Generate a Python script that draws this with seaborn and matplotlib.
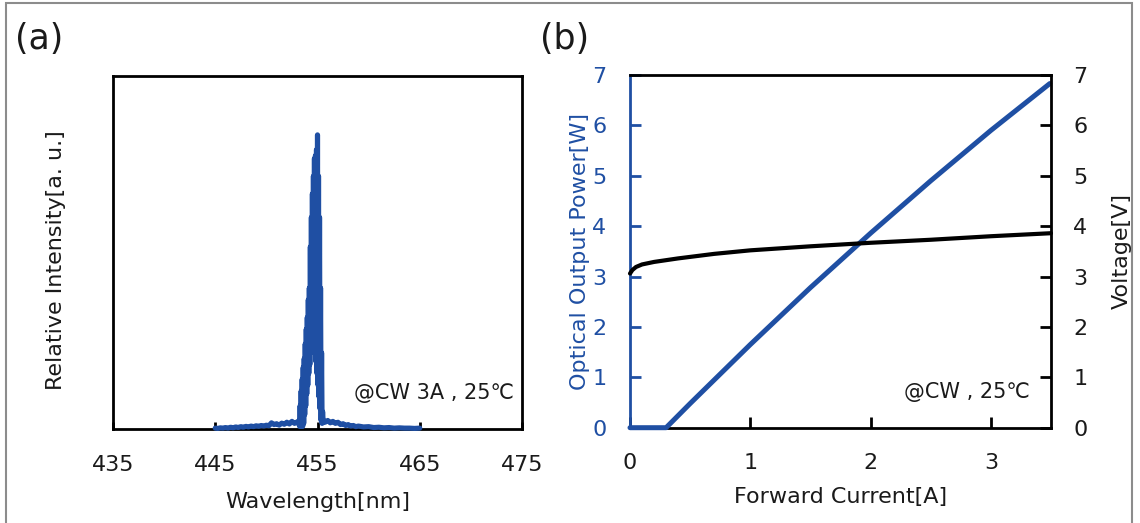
import matplotlib
matplotlib.use("Agg")
import matplotlib.pyplot as plt
from matplotlib.patches import Rectangle
import seaborn as sns
import pandas as pd

# ---- (a) emission spectrum (multimode, dense sampling around the peak) ----
wavelength_nm = [
    445.00, 445.25, 445.50, 445.75, 446.00, 446.25, 446.50, 446.75,
    447.00, 447.25, 447.50, 447.75, 448.00, 448.25, 448.50, 448.75,
    449.00, 449.25, 449.50, 449.75, 450.00, 450.25, 450.50, 450.75,
    451.00, 451.25, 451.50, 451.75, 452.00, 452.25, 452.50, 452.75,
    453.00, 453.10,
    453.20, 453.25, 453.30, 453.35, 453.40, 453.45, 453.50, 453.55,
    453.60, 453.65, 453.70, 453.75, 453.80, 453.85, 453.90, 453.95,
    454.00, 454.05, 454.10, 454.15, 454.20, 454.25, 454.30, 454.35,
    454.40, 454.45, 454.50, 454.55, 454.60, 454.65, 454.70, 454.75,
    454.80, 454.85, 454.90, 454.95, 455.00, 455.05, 455.10, 455.15,
    455.20, 455.25, 455.30, 455.35, 455.40, 455.45, 455.50, 455.55,
    455.65, 455.75, 456.00, 456.25, 456.50, 456.75, 457.00,
    457.25, 457.50, 457.75, 458.00, 458.25, 458.50, 458.75, 459.00,
    459.50, 460.00, 460.50, 461.00, 461.50, 462.00, 462.50, 463.00,
    463.50, 464.00, 464.50, 465.00,
]
intensity_au = [
    0.004, 0.003, 0.005, 0.004, 0.006, 0.004, 0.007, 0.005,
    0.008, 0.006, 0.009, 0.007, 0.010, 0.008, 0.011, 0.009,
    0.012, 0.010, 0.013, 0.011, 0.014, 0.012, 0.022, 0.016,
    0.019, 0.014, 0.021, 0.017, 0.024, 0.018, 0.027, 0.020,
    0.025, 0.020,
    0.030, 0.010, 0.080, 0.010, 0.130, 0.010, 0.170, 0.010,
    0.210, 0.020, 0.240, 0.050, 0.290, 0.080, 0.340, 0.120,
    0.380, 0.150, 0.440, 0.190, 0.480, 0.220, 0.620, 0.260,
    0.720, 0.290, 0.800, 0.330, 0.860, 0.310, 0.920, 0.270,
    0.930, 0.230, 0.950, 0.190, 1.000, 0.150, 0.860, 0.110,
    0.720, 0.070, 0.480, 0.030, 0.260, 0.020, 0.060, 0.030,
    0.028, 0.024, 0.030, 0.022, 0.027, 0.020, 0.024,
    0.016, 0.019, 0.013, 0.016, 0.011, 0.013, 0.009, 0.011,
    0.008, 0.009, 0.006, 0.007, 0.005, 0.006, 0.004, 0.005,
    0.004, 0.004, 0.003, 0.004,
]
wl_ticks = [435, 445, 455, 465, 475]

# ---- (b) L-I-V characteristics ----
current_p_A = [0.0, 0.10, 0.20, 0.30, 0.50, 1.00, 1.50, 2.00, 2.50, 3.00, 3.49]
power_W = [0.0, 0.0, 0.0, 0.0, 0.48, 1.65, 2.78, 3.86, 4.90, 5.90, 6.83]
current_v_A = [0.0, 0.02, 0.05, 0.10, 0.20, 0.40, 0.70, 1.00, 1.50, 2.00, 2.50, 3.00, 3.50]
voltage_V = [3.06, 3.13, 3.19, 3.24, 3.29, 3.36, 3.45, 3.52, 3.60, 3.67, 3.73, 3.80, 3.86]
current_ticks = [0, 1, 2, 3]
lv_ticks = [0, 1, 2, 3, 4, 5, 6, 7]

spec = pd.DataFrame({"wl": wavelength_nm, "I": intensity_au})
li = pd.DataFrame({"I": current_p_A, "P": power_W})
iv = pd.DataFrame({"I": current_v_A, "V": voltage_V})

sns.set_theme(style="white")
plt.rcParams["font.family"] = ["DejaVu Sans"]

BLUE = "#1f4fa3"
TXT = "#1a1a1a"
FS = 16
SPINE_W = 2.0

fig = plt.figure(figsize=(11.4, 5.23), dpi=100)
fig.patch.set_facecolor("white")

# outer frame
fig.patches.append(Rectangle((6 / 1140, -0.05), 1126 / 1140, 1.05 - 3 / 523,
                             transform=fig.transFigure, fill=False,
                             edgecolor="#8c8c8c", linewidth=1.5))

# ---------- panel (a) ----------
ax_a = fig.add_axes([113 / 1140, 93.7 / 523, 409 / 1140, 353.3 / 523])
sns.lineplot(data=spec, x="wl", y="I", ax=ax_a, color=BLUE, linewidth=3.7,
             estimator=None, sort=False, clip_on=False, zorder=5)
ax_a.set_xlim(435, 475)
ax_a.set_ylim(0, 1.2)
ax_a.set_xticks(wl_ticks)
ax_a.set_yticks([])
ax_a.tick_params(axis="x", direction="in", length=5, width=2, color="black",
                 labelsize=FS, labelcolor=TXT, pad=18.5, bottom=True)
for s in ax_a.spines.values():
    s.set_color("black")
    s.set_linewidth(SPINE_W)
ax_a.set_xlabel("Wavelength[nm]", fontsize=FS, color=TXT, labelpad=12)
ax_a.set_ylabel("Relative Intensity[a. u.]", fontsize=FS, color=TXT)
ax_a.yaxis.set_label_coords(-0.115, 0.48)
ax_a.text(0.98, 0.085, "@CW 3A , 25℃", transform=ax_a.transAxes,
          ha="right", va="baseline", fontsize=15, color=TXT)

# ---------- panel (b) ----------
ax_b = fig.add_axes([630 / 1140, 95.3 / 523, 421 / 1140, 352.7 / 523])
ax_v = ax_b.twinx()
sns.lineplot(data=li, x="I", y="P", ax=ax_b, color=BLUE, linewidth=3.6,
             estimator=None, clip_on=False, zorder=5)
sns.lineplot(data=iv, x="I", y="V", ax=ax_v, color="black", linewidth=3.0,
             estimator=None, clip_on=False, zorder=6)
ax_b.set_xlim(0, 3.5)
ax_b.set_ylim(0, 7)
ax_v.set_ylim(0, 7)
ax_b.set_xticks(current_ticks)
ax_b.set_yticks(lv_ticks)
ax_v.set_yticks(lv_ticks)

ax_b.tick_params(axis="x", direction="in", length=8, width=2, color="black",
                 labelsize=FS, labelcolor=TXT, pad=18.5, bottom=True)
ax_b.tick_params(axis="y", direction="in", length=8, width=2, color=BLUE,
                 labelsize=FS, labelcolor=BLUE, pad=17, left=True)
ax_v.tick_params(axis="y", direction="in", length=8, width=2, color="black",
                 labelsize=FS, labelcolor=TXT, pad=16, right=True)

for name, s in ax_b.spines.items():
    s.set_linewidth(SPINE_W)
    s.set_color(BLUE if name == "left" else "black")
ax_b.spines["right"].set_visible(False)
for name, s in ax_v.spines.items():
    s.set_linewidth(SPINE_W)
    s.set_color("black")
    if name != "right":
        s.set_visible(False)

ax_b.set_xlabel("Forward Current[A]", fontsize=FS, color=TXT, labelpad=10)
ax_b.set_ylabel("Optical Output Power[W]", fontsize=FS, color=BLUE)
ax_b.yaxis.set_label_coords(-0.095, 0.5)
ax_v.set_ylabel("Voltage[V]", fontsize=FS, color=TXT)
ax_v.yaxis.set_label_coords(1.145, 0.5)
ax_b.text(0.95, 0.085, "@CW , 25℃", transform=ax_b.transAxes,
          ha="right", va="baseline", fontsize=15, color=TXT)

# panel letters
fig.text(15 / 1140, 1 - 49 / 523, "(a)", fontsize=25, color=TXT, va="baseline")
fig.text(540 / 1140, 1 - 49 / 523, "(b)", fontsize=25, color=TXT, va="baseline")

fig.savefig("out.png", dpi=100, facecolor="white")
